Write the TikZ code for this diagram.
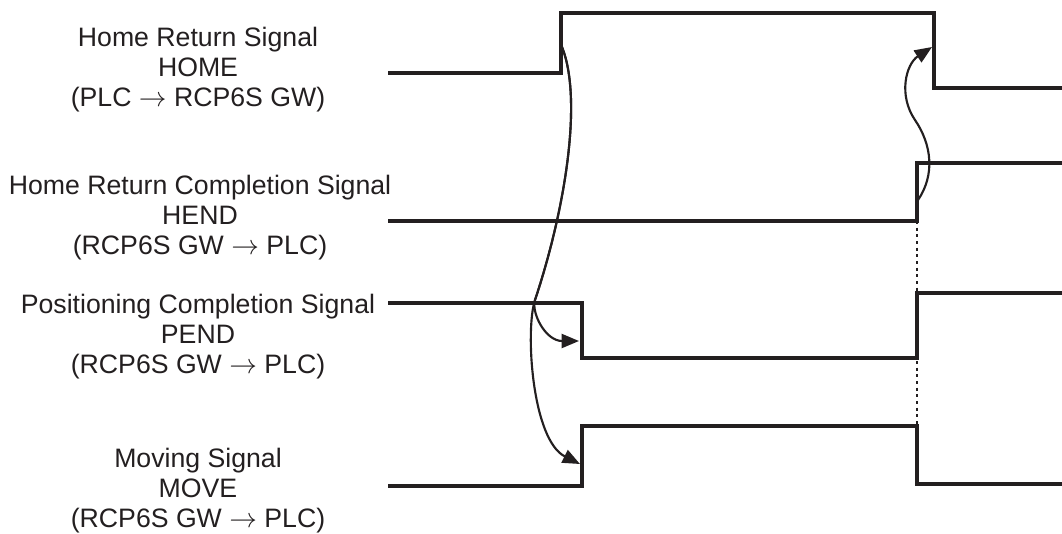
\documentclass[tikz,border=0pt]{standalone}
\usepackage{fontspec}
\setmainfont{Liberation Sans}
\usetikzlibrary{arrows.meta}
\definecolor{ink}{HTML}{231F20}
\begin{document}
\begin{tikzpicture}[x=0.75pt,y=-0.75pt,
  sig/.style={draw=ink,line width=3pt,line join=miter,line cap=butt},
  cause/.style={draw=ink,line width=1.6pt,-{Triangle[length=13pt,width=10.5pt]}},
  guide/.style={draw=ink,line width=1.3pt,dash pattern=on 2.2pt off 2.8pt},
  lbl/.style={text=ink,font=\fontsize{20}{22.5}\selectfont,align=center,anchor=base,inner sep=0pt}]
\useasboundingbox (0,0) rectangle (1062,533);

% labels (anchored at the baseline of the last line)
\node[lbl] (homelbl) at (198,106) {Home Return Signal\\HOME\\(PLC $\rightarrow$ RCP6S GW)};
\node[lbl] (hendlbl) at (200,254) {Home Return Completion Signal\\HEND\\(RCP6S GW $\rightarrow$ PLC)};
\node[lbl] (pendlbl) at (198,373) {Positioning Completion Signal\\PEND\\(RCP6S GW $\rightarrow$ PLC)};
\node[lbl] (movelbl) at (198,527) {Moving Signal\\MOVE\\(RCP6S GW $\rightarrow$ PLC)};

% key points
\coordinate (homeL) at (388,73);
\coordinate (homeR1) at (561,73);
\coordinate (homeR2) at (561,13);
\coordinate (homeF1) at (934,13);
\coordinate (homeF2) at (934,88);
\coordinate (homeE) at (1062,88);

\coordinate (hendL) at (388,221);
\coordinate (hendR1) at (917,221);
\coordinate (hendR2) at (917,163);
\coordinate (hendE) at (1062,163);

\coordinate (pendL) at (388,303);
\coordinate (pendF1) at (582,303);
\coordinate (pendF2) at (582,358);
\coordinate (pendR1) at (917,358);
\coordinate (pendR2) at (917,293);
\coordinate (pendE) at (1062,293);

\coordinate (moveL) at (388,486);
\coordinate (moveR1) at (582,486);
\coordinate (moveR2) at (582,426);
\coordinate (moveF1) at (917,426);
\coordinate (moveF2) at (917,484);
\coordinate (moveE) at (1062,484);

% dotted guide
\draw[guide] (hendR1) -- (moveF1);

% signals
\draw[sig] (homeL) -- (homeR1) -- (homeR2) -- (homeF1) -- (homeF2) -- (homeE);
\draw[sig] (hendL) -- (hendR1) -- (hendR2) -- (hendE);
\draw[sig] (pendL) -- (pendF1) -- (pendF2) -- (pendR1) -- (pendR2) -- (pendE);
\draw[sig] (moveL) -- (moveR1) -- (moveR2) -- (moveF1) -- (moveF2) -- (moveE);

% cause arrows
\coordinate (homeSrc) at (562,47);
\coordinate (split) at (535,300);
\coordinate (pendTip) at (579,341);
\coordinate (moveTip) at (580,464);
\draw[cause] (homeSrc) .. controls (583,100) and (565,210) .. (split)
  .. controls (531,312) and (545,341) .. (pendTip);
\draw[cause] (homeSrc) .. controls (583,100) and (565,210) .. (split)
  .. controls (525,330) and (532,440) .. (moveTip);

\coordinate (hendSrc) at (918,200);
\coordinate (hendMid) at (915,120);
\coordinate (homeTip) at (932,47);
\draw[cause] (hendSrc) .. controls (935,175) and (932,145) .. (hendMid)
  .. controls (898,95) and (906,64) .. (homeTip);
\end{tikzpicture}
\end{document}
